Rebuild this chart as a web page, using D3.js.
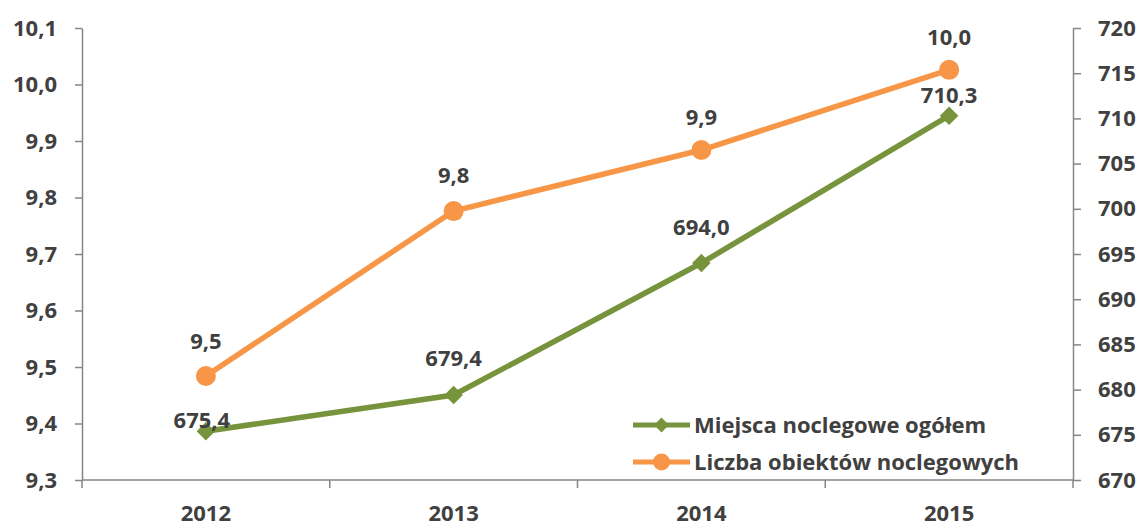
<!DOCTYPE html>
<meta charset="utf-8">
<script src="https://d3js.org/d3.v7.min.js"></script>
<style>
  body { margin: 0; background: #fff; }
  text { font-family: "Open Sans", sans-serif; font-weight: bold; fill: #404040; }
</style>
<body>
<div id="chart"></div>
<script>

// data
var years = ["2012", "2013", "2014", "2015"];
var miejsca = [675.4, 679.4, 694.0, 710.3];      // right axis
var obiekty = [9.484, 9.776, 9.884, 10.026];     // left axis
var obiektyLabels = ["9,5", "9,8", "9,9", "10,0"];
var miejscaLabels = ["675,4", "679,4", "694,0", "710,3"];
var leftTicks = [9.3, 9.4, 9.5, 9.6, 9.7, 9.8, 9.9, 10.0, 10.1];
var rightTicks = [670, 675, 680, 685, 690, 695, 700, 705, 710, 715, 720];
var seriesNames = ["Miejsca noclegowe ogółem", "Liczba obiektów noclegowych"];

// layout
var W = 1141, H = 527;
var plotLeft = 82, plotRight = 1073, plotTop = 28, plotBottom = 480;
var green = "#77933C", orange = "#F79646", axisColor = "#868686";
// label offsets (Excel moved a couple of them)
var obiektyDy = [-35, -36, -33, -33];
var miejscaDy = [-11, -37, -36, -20];

var svg = d3.select("#chart").append("svg")
    .attr("width", W)
    .attr("height", H);

var x = d3.scaleBand().domain(years).range([plotLeft, plotRight]);
var yL = d3.scaleLinear().domain([9.3, 10.1]).range([plotBottom, plotTop]);
var yR = d3.scaleLinear().domain([670, 720]).range([plotBottom, plotTop]);
var cx = function(d) { return x(d) + x.bandwidth() / 2; };

function comma(d, n) { return d.toFixed(n).replace(".", ","); }

// left axis
var gL = svg.append("g")
    .attr("transform", "translate(" + plotLeft + ",0)")
    .call(d3.axisLeft(yL).tickValues(leftTicks).tickSize(7).tickSizeOuter(0)
      .tickPadding(18).tickFormat(function(d) { return comma(d, 1); }));

// right axis
var gR = svg.append("g")
    .attr("transform", "translate(" + plotRight + ",0)")
    .call(d3.axisRight(yR).tickValues(rightTicks).tickSize(8).tickSizeOuter(0)
      .tickPadding(17).tickFormat(function(d) { return d; }));

[gL, gR].forEach(function(g) {
  g.selectAll("path, line").attr("stroke", axisColor).attr("stroke-width", 1.5);
  g.selectAll("text").style("font-size", "22px").attr("fill", "#404040");
});

// category axis
svg.append("line")
    .attr("x1", plotLeft).attr("x2", plotRight)
    .attr("y1", plotBottom).attr("y2", plotBottom)
    .attr("stroke", axisColor).attr("stroke-width", 1.5);

var bounds = years.map(function(d) { return x(d); }).concat([plotRight]);
svg.selectAll(".xtick").data(bounds).enter().append("line")
    .attr("x1", function(d) { return d; }).attr("x2", function(d) { return d; })
    .attr("y1", plotBottom).attr("y2", plotBottom + 8)
    .attr("stroke", axisColor).attr("stroke-width", 1.5);

svg.selectAll(".xlab").data(years).enter().append("text")
    .attr("x", cx)
    .attr("y", 521)
    .attr("text-anchor", "middle")
    .style("font-size", "22px")
    .text(function(d) { return d; });

// lines
svg.append("path")
    .datum(obiekty)
    .attr("fill", "none")
    .attr("stroke", orange)
    .attr("stroke-width", 5.5)
    .attr("d", d3.line()
      .x(function(d, i) { return cx(years[i]); })
      .y(function(d) { return yL(d); }));

svg.append("path")
    .datum(miejsca)
    .attr("fill", "none")
    .attr("stroke", green)
    .attr("stroke-width", 5.5)
    .attr("d", d3.line()
      .x(function(d, i) { return cx(years[i]); })
      .y(function(d) { return yR(d); }));

// markers
svg.selectAll(".dot").data(obiekty).enter().append("circle")
    .attr("cx", function(d, i) { return cx(years[i]); })
    .attr("cy", function(d) { return yL(d); })
    .attr("r", 10)
    .attr("fill", orange);

var diamond = d3.symbol().type(d3.symbolSquare).size(170);
svg.selectAll(".dia").data(miejsca).enter().append("path")
    .attr("d", diamond)
    .attr("transform", function(d, i) {
      return "translate(" + cx(years[i]) + "," + yR(d) + ") rotate(45)";
    })
    .attr("fill", green);

// data labels
svg.selectAll(".lo").data(obiekty).enter().append("text")
    .attr("x", function(d, i) { return cx(years[i]); })
    .attr("y", function(d, i) { return yL(d) + obiektyDy[i]; })
    .attr("dy", "0.35em")
    .attr("text-anchor", "middle")
    .style("font-size", "22px")
    .text(function(d, i) { return obiektyLabels[i]; });

svg.selectAll(".lm").data(miejsca).enter().append("text")
    .attr("x", function(d, i) { return cx(years[i]) + (i == 0 ? -4 : 0); })
    .attr("y", function(d, i) { return yR(d) + miejscaDy[i]; })
    .attr("dy", "0.35em")
    .attr("text-anchor", "middle")
    .style("font-size", "22px")
    .text(function(d, i) { return miejscaLabels[i]; });

// legend
var legend = svg.append("g").attr("transform", "translate(633,425)");
var colors = [green, orange];
seriesNames.forEach(function(name, i) {
  var g = legend.append("g").attr("transform", "translate(0," + (i * 37) + ")");
  g.append("line").attr("x1", 0).attr("x2", 57)
    .attr("stroke", colors[i]).attr("stroke-width", 5);
  if (i == 0) {
    g.append("path").attr("d", d3.symbol().type(d3.symbolSquare).size(110))
      .attr("transform", "translate(28.5,0) rotate(45)").attr("fill", green);
  } else {
    g.append("circle").attr("cx", 28.5).attr("r", 8.5).attr("fill", orange);
  }
  g.append("text").attr("x", 61).attr("dy", "0.35em")
    .style("font-size", "22px")
    .text(name);
});

</script>
</body>
</html>
